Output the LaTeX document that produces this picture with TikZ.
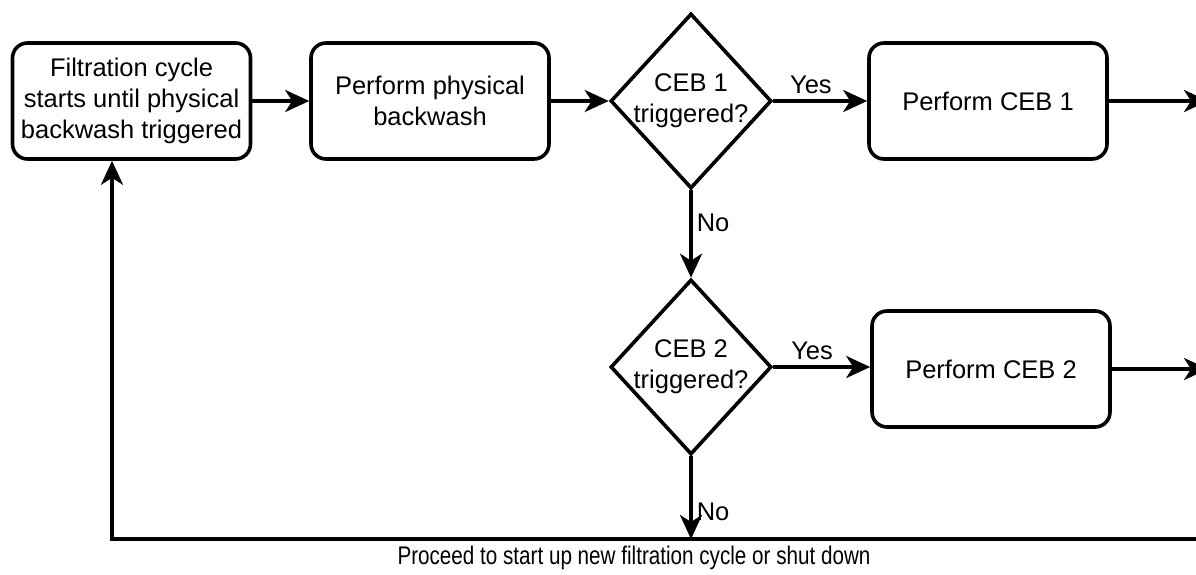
\documentclass[tikz,border=0pt]{standalone}
\usepackage{fontspec}
\setmainfont{Liberation Sans}
\usetikzlibrary{shapes.geometric,arrows.meta}
\tikzset{
  process/.style={draw, rectangle, rounded corners=15pt, line width=3.6pt,
    minimum width=238pt, minimum height=116pt, align=center, inner sep=0pt},
  decision/.style={draw, diamond, line width=3.6pt, minimum width=161pt,
    minimum height=175pt, align=center, inner sep=-8pt},
  flow/.style={line width=3.6pt, -{Stealth[length=24pt,width=22pt,inset=7pt]}},
  tag/.style={inner sep=0pt}
}
\begin{document}
\begin{tikzpicture}[x=1pt,y=-1pt,font=\fontsize{25.5}{31}\selectfont]
  \useasboundingbox (0,0) rectangle (1196,575);
  % top row
  \node[process] (start) at (131.5,101) {Filtration cycle\\starts until physical\\backwash triggered};
  \node[process] (wash) at (430,101) {Perform physical\\backwash};
  \node[decision] (ceb1) at (691,101) {CEB 1\\triggered?};
  \node[process] (ceb1box) at (988,101) {Perform CEB 1};
  \coordinate (out1) at (1208,101);
  % second row
  \node[decision] (ceb2) at (691,367) {CEB 2\\triggered?};
  \node[process] (ceb2box) at (991,369) {Perform CEB 2};
  \coordinate (out2) at (1208,369);
  % return line
  \coordinate (rail) at (1200,539);
  \coordinate (corner) at (112,539);
  \node[tag] (proceed) at (634,558) {\scalebox{0.81}[1]{Proceed to start up new filtration cycle or shut down}};

  \draw[flow] (start) -- (wash);
  \draw[flow] (wash) -- (ceb1);
  \draw[flow] (ceb1) -- node[tag, pos=0.4, above=5pt] {Yes} (ceb1box);
  \draw[flow] (ceb1box) -- (out1);
  \draw[flow] (ceb1) -- node[tag, pos=0.37, right=4pt] {No} (ceb2);
  \draw[flow] (ceb2) -- node[tag, pos=0.4, above=5pt] {Yes} (ceb2box.west |- ceb2);
  \draw[flow] (ceb2box) -- (out2);
  \draw[flow] (ceb2) -- node[tag, pos=0.67, right=4pt] {No} (ceb2 |- corner);
  \draw[flow] (rail) -- (corner) -- (corner |- start.south);
\end{tikzpicture}
\end{document}
